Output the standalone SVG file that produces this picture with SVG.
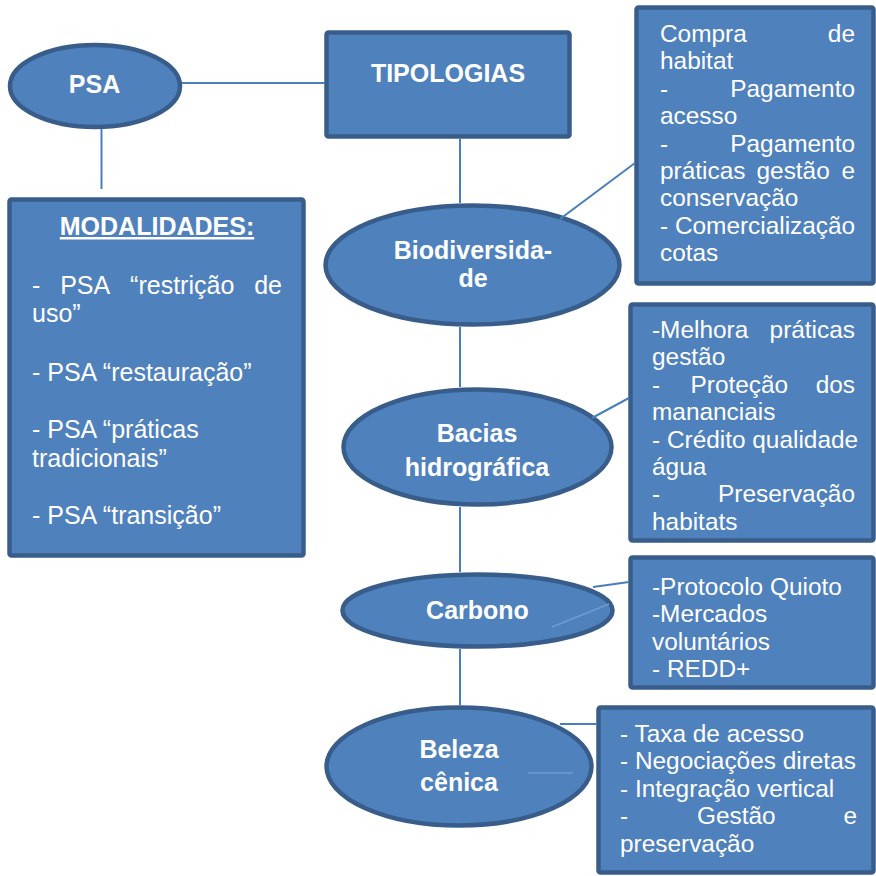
<svg xmlns="http://www.w3.org/2000/svg" width="876" height="876" viewBox="0 0 876 876">
  <style>
    .shape { fill: #4F81BD; stroke: #385D8A; stroke-width: 4.5; }
    .conn { stroke: #4A7EBB; stroke-width: 2; fill: none; }
    .faint { stroke: #6E9BD1; stroke-width: 1.5; fill: none; }
    .title { font-family: "Liberation Sans", Arial, sans-serif; font-weight: bold; font-size: 25px; fill: #FFFFFF; text-anchor: middle; }
    .body { font-family: "Liberation Sans", Arial, sans-serif; font-size: 24.4px; fill: #FFFFFF; }
    .mod { font-family: "Liberation Sans", Arial, sans-serif; font-size: 25px; fill: #FFFFFF; }
    .end { text-anchor: end; }
  </style>
  <rect width="876" height="876" fill="#FFFFFF"/>

  <!-- nodes -->
  <g id="psa">
    <ellipse class="shape" cx="95" cy="86" rx="85" ry="41"/>
    <text class="title" x="94.5" y="92.5">PSA</text>
  </g>

  <g id="tipologias">
    <rect class="shape" x="326.5" y="32.5" width="243" height="104" rx="2"/>
    <text class="title" x="448" y="81.5">TIPOLOGIAS</text>
  </g>

  <g id="modalidades">
    <rect class="shape" x="9.5" y="199.5" width="294" height="356" rx="2"/>
    <text class="title" x="157" y="235" text-decoration="underline">MODALIDADES:</text>
    <g class="mod">
      <text x="32" y="293.5">-</text>
      <text x="60.2" y="293.5">PSA</text>
      <text x="130.1" y="293.5">“restrição</text>
      <text class="end" x="282" y="293.5">de</text>
      <text x="32" y="322">uso”</text>
      <text x="32" y="380.5">- PSA “restauração”</text>
      <text x="32" y="438">- PSA “práticas</text>
      <text x="32" y="466.5">tradicionais”</text>
      <text x="32" y="524">- PSA “transição”</text>
    </g>
  </g>

  <g id="biodiversidade">
    <ellipse class="shape" cx="472.5" cy="265" rx="147" ry="59.5"/>
    <text class="title" x="473" y="259.3">Biodiversida-</text>
    <text class="title" x="473" y="287.3">de</text>
  </g>

  <g id="biodiversidade-itens">
    <rect class="shape" x="636.5" y="7.5" width="237" height="276" rx="2"/>
    <g class="body">
      <text x="660" y="42">Compra</text>
      <text class="end" x="855" y="42">de</text>
      <text x="660" y="69.4">habitat</text>
      <text x="660" y="96.8">-</text>
      <text class="end" x="855" y="96.8">Pagamento</text>
      <text x="660" y="124.2">acesso</text>
      <text x="660" y="151.6">-</text>
      <text class="end" x="855" y="151.6">Pagamento</text>
      <text x="660" y="179">práticas</text>
      <text x="756.5" y="179">gestão</text>
      <text class="end" x="855" y="179">e</text>
      <text x="660" y="206.4">conservação</text>
      <text x="660" y="233.8">- Comercialização</text>
      <text x="660" y="261.2">cotas</text>
    </g>
  </g>

  <g id="bacias">
    <ellipse class="shape" cx="477.5" cy="447" rx="134" ry="57.5"/>
    <text class="title" x="477" y="442.3">Bacias</text>
    <text class="title" x="477" y="475.7">hidrográfica</text>
  </g>

  <g id="bacias-itens">
    <rect class="shape" x="630.5" y="304.5" width="243" height="236" rx="2"/>
    <g class="body">
      <text x="652" y="338">-Melhora</text>
      <text class="end" x="855" y="338">práticas</text>
      <text x="652" y="365.4">gestão</text>
      <text x="652" y="392.8">-</text>
      <text x="690.5" y="392.8">Proteção</text>
      <text class="end" x="855" y="392.8">dos</text>
      <text x="652" y="420.2">mananciais</text>
      <text x="652" y="447.6">- Crédito qualidade</text>
      <text x="652" y="475">água</text>
      <text x="652" y="502.4">-</text>
      <text class="end" x="855" y="502.4">Preservação</text>
      <text x="652" y="529.8">habitats</text>
    </g>
  </g>

  <g id="carbono">
    <ellipse class="shape" cx="477.5" cy="610.5" rx="135" ry="36"/>
    <text class="title" x="477.5" y="619">Carbono</text>
  </g>

  <g id="carbono-itens">
    <rect class="shape" x="630.5" y="557.5" width="243" height="130" rx="2"/>
    <g class="body">
      <text x="652" y="595">-Protocolo Quioto</text>
      <text x="652" y="622.4">-Mercados</text>
      <text x="652" y="649.8">voluntários</text>
      <text x="652" y="677.2">- REDD+</text>
    </g>
  </g>

  <g id="beleza">
    <ellipse class="shape" cx="459" cy="766.5" rx="132.5" ry="59"/>
    <text class="title" x="459" y="758">Beleza</text>
    <text class="title" x="459" y="791">cênica</text>
  </g>

  <g id="beleza-itens">
    <rect class="shape" x="598.5" y="707.5" width="275" height="165" rx="2"/>
    <g class="body">
      <text x="620" y="742">- Taxa de acesso</text>
      <text x="620" y="769.4">- Negociações diretas</text>
      <text x="620" y="796.8">- Integração vertical</text>
      <text x="620" y="824.2">-</text>
      <text x="697" y="824.2">Gestão</text>
      <text class="end" x="857" y="824.2">e</text>
      <text x="620" y="851.6">preservação</text>
    </g>
  </g>

  <!-- connectors -->
  <g id="connectors">
    <line class="conn" x1="182" y1="83" x2="325" y2="83"/>
    <line class="conn" x1="101.5" y1="129" x2="101.5" y2="189"/>
    <line class="conn" x1="460" y1="139" x2="460" y2="203"/>
    <line class="conn" x1="460" y1="327" x2="460" y2="387"/>
    <line class="conn" x1="460" y1="507" x2="460" y2="572"/>
    <line class="conn" x1="460" y1="649" x2="460" y2="705"/>
    <line class="conn" x1="560" y1="219" x2="635" y2="163"/>
    <line class="conn" x1="592" y1="418" x2="629" y2="398"/>
    <line class="conn" x1="593" y1="587" x2="629" y2="582"/>
    <line class="faint" x1="552" y1="627" x2="609" y2="604"/>
    <line class="conn" x1="560" y1="724" x2="597" y2="724"/>
    <line class="faint" x1="528" y1="773" x2="573" y2="773"/>
  </g>
</svg>
